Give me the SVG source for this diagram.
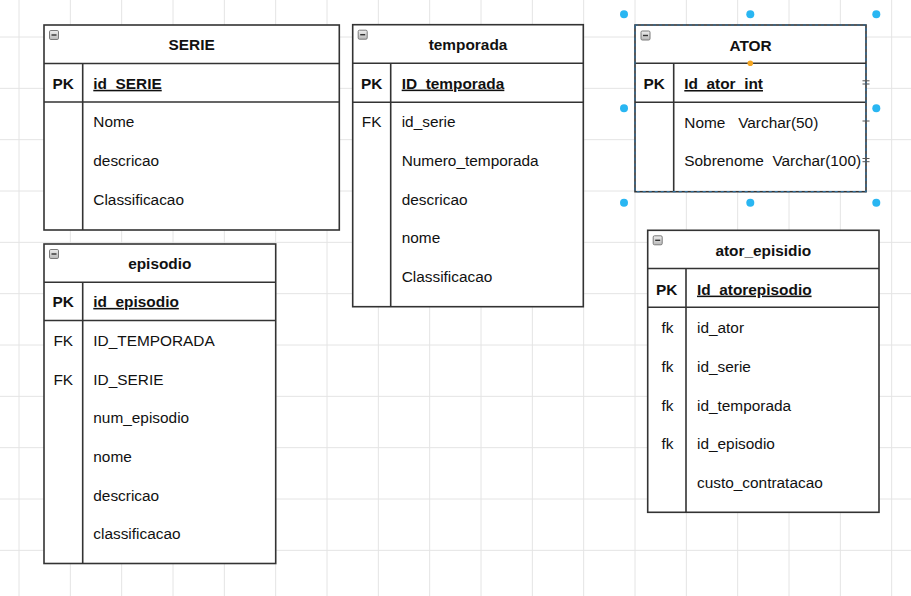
<svg xmlns="http://www.w3.org/2000/svg" width="911" height="596" viewBox="0 0 911 596">
<defs>
<style>
.grid{stroke:#e4e4e4;stroke-width:1;fill:none}
.box{fill:#ffffff;stroke:#333333;stroke-width:1.6}
.ln{stroke:#333333;stroke-width:1.6;fill:none}
text{font-family:"Liberation Sans",Arial,sans-serif;font-size:15.4px;fill:#111111}
.title{font-weight:bold;text-anchor:middle}
.key{text-anchor:middle}
.pk{font-weight:bold}
.u{text-decoration:underline}
.handle{fill:#29b6f2}
</style>
<linearGradient id="ig" x1="0" y1="0" x2="0" y2="1">
<stop offset="0" stop-color="#eeeeee"/>
<stop offset="1" stop-color="#b8b8b8"/>
</linearGradient>
<g id="minus">
<rect x="0" y="0" width="9" height="9" rx="1.3" fill="url(#ig)" stroke="#7a7a7a" stroke-width="1"/>
<line x1="2" y1="4.5" x2="7" y2="4.5" stroke="#333" stroke-width="1.4"/>
</g>
</defs>
<rect x="0" y="0" width="911" height="596" fill="#ffffff"/>
<path class="grid" d="M19 0V596M70.33 0V596M121.67 0V596M173 0V596M224.33 0V596M275.67 0V596M327 0V596M378.33 0V596M429.67 0V596M481 0V596M532.33 0V596M583.67 0V596M635 0V596M686.33 0V596M737.67 0V596M789 0V596M840.33 0V596M891.67 0V596M0 37H911M0 88.33H911M0 139.67H911M0 191H911M0 242.33H911M0 293.67H911M0 345H911M0 396.33H911M0 447.67H911M0 499H911M0 550.33H911"/>
<g id="connectors"/>
<g id="serie">
<rect class="box" x="44" y="25" width="295.3" height="205"/>
<path class="ln" d="M44 63.5H339.3M44 102H339.3M82.7 63.5V230"/>
<use href="#minus" x="49.5" y="30.5"/>
<text class="title" x="191.7" y="50">SERIE</text>
<text class="key pk" x="63.3" y="88.8">PK</text>
<text class="pk u" x="93.3" y="88.8">id_SERIE</text>
<text x="93.3" y="127.3">Nome</text>
<text x="93.3" y="166">descricao</text>
<text x="93.3" y="204.6">Classificacao</text>
</g>
<g id="temporada">
<rect class="box" x="352.7" y="24.7" width="230.6" height="282"/>
<path class="ln" d="M352.7 63.3H583.3M352.7 102.3H583.3M390.7 63.3V306.7"/>
<use href="#minus" x="358.2" y="30.2"/>
<text class="title" x="468" y="49.9">temporada</text>
<text class="key pk" x="371.7" y="88.6">PK</text>
<text class="pk u" x="401.7" y="88.6">ID_temporada</text>
<text class="key" x="371.7" y="127.3">FK</text>
<text x="401.7" y="127.3">id_serie</text>
<text x="401.7" y="166">Numero_temporada</text>
<text x="401.7" y="204.7">descricao</text>
<text x="401.7" y="243.3">nome</text>
<text x="401.7" y="282">Classificacao</text>
</g>
<g id="ator">
<rect class="box" x="635" y="25" width="231" height="166.7"/>
<path class="ln" d="M635 63.3H866M635 102.3H866M673.7 63.3V191.7"/>
<rect x="635" y="25" width="231" height="166.7" fill="none" stroke="#2f6d9a" stroke-width="1.2" stroke-dasharray="3 3"/>
<use href="#minus" x="641" y="31"/>
<text class="title" x="750.5" y="50.6">ATOR</text>
<text class="key pk" x="654.3" y="89">PK</text>
<text class="pk u" x="684.3" y="89" xml:space="preserve">Id_ator  int</text>
<text x="684.3" y="127.7" xml:space="preserve">Nome   Varchar(50)</text>
<text x="684.3" y="166.2" xml:space="preserve">Sobrenome  Varchar(100)</text>
<path d="M862.5 80.8H869.5M862.5 84H869.5M862.5 121H869.5M862.5 158.5H869.5M862.5 161.7H869.5" stroke="#555" stroke-width="1" fill="none"/>
<circle class="handle" cx="624" cy="14.3" r="4"/>
<circle class="handle" cx="750.3" cy="14.3" r="4"/>
<circle class="handle" cx="876.3" cy="14.3" r="4"/>
<circle class="handle" cx="624" cy="108.3" r="4"/>
<circle class="handle" cx="876.3" cy="108.3" r="4"/>
<circle class="handle" cx="624" cy="202.7" r="4"/>
<circle class="handle" cx="750.3" cy="202.7" r="4"/>
<circle class="handle" cx="876.3" cy="202.7" r="4"/>
<circle cx="750.3" cy="63.3" r="2.8" fill="#f5a623"/>
</g>
<g id="episodio">
<rect class="box" x="44" y="244" width="231.7" height="319.5"/>
<path class="ln" d="M44 282.3H275.7M44 320.5H275.7M82.7 282.3V563.5"/>
<use href="#minus" x="49.5" y="249.5"/>
<text class="title" x="159.8" y="268.5">episodio</text>
<text class="key pk" x="63.3" y="306.9">PK</text>
<text class="pk u" x="93.3" y="306.9">id_episodio</text>
<text class="key" x="63.3" y="346">FK</text>
<text x="93.3" y="346">ID_TEMPORADA</text>
<text class="key" x="63.3" y="384.7">FK</text>
<text x="93.3" y="384.7">ID_SERIE</text>
<text x="93.3" y="423.3">num_episodio</text>
<text x="93.3" y="462">nome</text>
<text x="93.3" y="500.7">descricao</text>
<text x="93.3" y="539.3">classificacao</text>
</g>
<g id="ator_episidio">
<rect class="box" x="647.7" y="230.3" width="231.3" height="282"/>
<path class="ln" d="M647.7 268.5H879M647.7 307.3H879M686 268.5V512.3"/>
<use href="#minus" x="653.2" y="235.8"/>
<text class="title" x="763.3" y="255.8">ator_episidio</text>
<text class="key pk" x="666.8" y="294.6">PK</text>
<text class="pk u" x="697" y="294.6">Id_atorepisodio</text>
<text class="key" x="667.5" y="333.3">fk</text>
<text x="697" y="333.3">id_ator</text>
<text class="key" x="667.5" y="372">fk</text>
<text x="697" y="372">id_serie</text>
<text class="key" x="667.5" y="410.7">fk</text>
<text x="697" y="410.7">id_temporada</text>
<text class="key" x="667.5" y="449.3">fk</text>
<text x="697" y="449.3">id_episodio</text>
<text x="697" y="488">custo_contratacao</text>
</g>
</svg>
